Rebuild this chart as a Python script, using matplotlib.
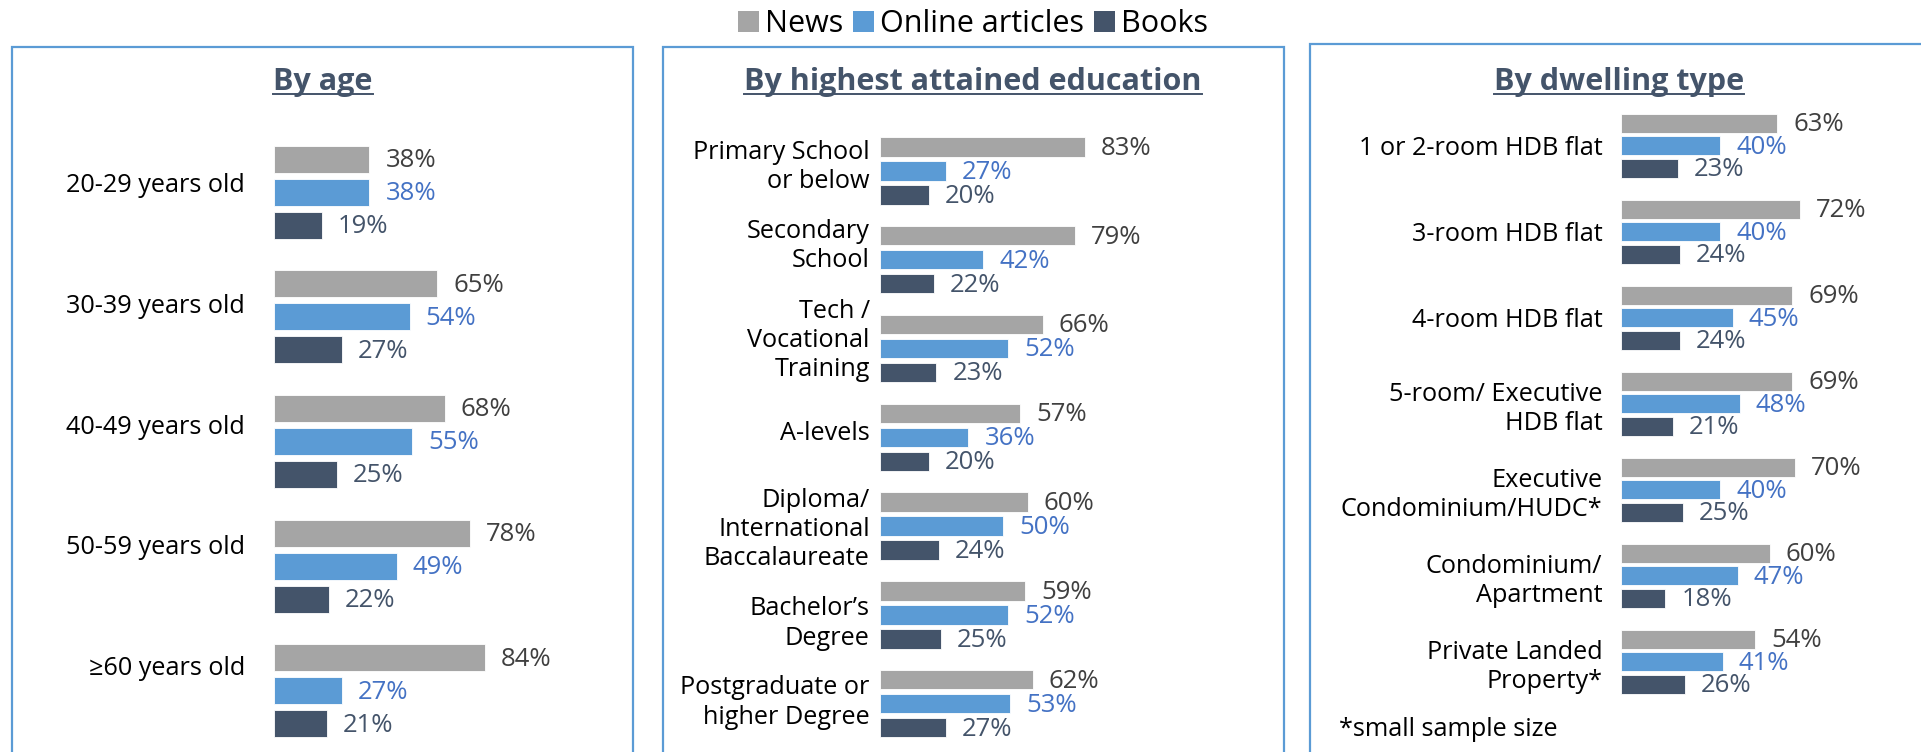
import matplotlib
matplotlib.use('Agg')
import matplotlib.pyplot as plt
from matplotlib.patches import Patch, Rectangle
from matplotlib.lines import Line2D

plt.rcParams['font.family'] = ['Open Sans', 'DejaVu Sans']

# Data
age_labels = ['20-29 years old', '30-39 years old', '40-49 years old', '50-59 years old', '≥60 years old']
age_news = [38, 65, 68, 78, 84]
age_online = [38, 54, 55, 49, 27]
age_books = [19, 27, 25, 22, 21]

edu_labels = ['Primary School\nor below', 'Secondary\nSchool', 'Tech /\nVocational\nTraining', 'A-levels',
              'Diploma/\nInternational\nBaccalaureate', 'Bachelor’s\nDegree', 'Postgraduate or\nhigher Degree']
edu_news = [83, 79, 66, 57, 60, 59, 62]
edu_online = [27, 42, 52, 36, 50, 52, 53]
edu_books = [20, 22, 23, 20, 24, 25, 27]

dwell_labels = ['1 or 2-room HDB flat', '3-room HDB flat', '4-room HDB flat', '5-room/ Executive\nHDB flat',
                'Executive\nCondominium/HUDC*', 'Condominium/\nApartment', 'Private Landed\nProperty*']
dwell_news = [63, 72, 69, 69, 70, 60, 54]
dwell_online = [40, 40, 45, 48, 40, 47, 41]
dwell_books = [23, 24, 24, 21, 25, 18, 26]

series_names = ['News', 'Online articles', 'Books']
bar_colors = ['#A5A5A5', '#5B9BD5', '#44546A']
text_colors = ['#404040', '#4472C4', '#44546A']
border = '#5B9BD5'
title_color = '#44546A'

# category label shift (in group units) as laid out in the original
age_shift = [-0.08, -0.11, -0.14, -0.17, -0.20]
edu_shift = [-0.10, -0.21, -0.15, -0.08, -0.02, 0.04, -0.07]
dwell_shift = [0.0] * 7

W, H = 1921, 752
fig = plt.figure(figsize=(W / 100, H / 100), dpi=100)


def px_axes(left, top, width, height):
    return fig.add_axes([left / W, 1 - (top + height) / H, width / W, height / H])


def panel(left, top, ppc, pitch, labels, values, shift, bh, bp, pad, gap=11.5, fs=18.2, vfs=18.5):
    n = len(labels)
    ax = px_axes(left, top, 100 * ppc, n * pitch)
    ax.set_xlim(0, 100)
    ax.set_ylim(n - 0.5, -0.5)
    for k, vals in enumerate(values):
        ys = [i + (k - 1) * bp for i in range(n)]
        ax.barh(ys, vals, height=bh, color=bar_colors[k], edgecolor='white', linewidth=0.6)
        for y, v in zip(ys, vals):
            ax.annotate(f'{v}%', xy=(v, y), xytext=(gap, -1), textcoords='offset points',
                        ha='left', va='center', fontsize=vfs, color=text_colors[k], annotation_clip=False)
    ax.set_yticks([i + s for i, s in zip(range(n), shift)])
    ax.set_yticklabels(labels, fontsize=fs, color='black', linespacing=1.22)
    ax.tick_params(axis='y', length=0, pad=pad)
    ax.set_xticks([])
    for s in ax.spines.values():
        s.set_visible(False)
    ax.patch.set_visible(False)
    return ax


panel(274, 130, 2.51, 124.6, age_labels, [age_news, age_online, age_books], age_shift, 0.217, 0.265, 21)
panel(879.5, 126.5, 2.47, 88.8, edu_labels, [edu_news, edu_online, edu_books], edu_shift, 0.22, 0.27, 7)
panel(1620.5, 102.8, 2.49, 86, dwell_labels, [dwell_news, dwell_online, dwell_books], dwell_shift,
      0.22, 0.262, 13)

# panel boxes
for x0, x1, y0 in [(12, 633, 47), (663, 1284, 47), (1310, 1930, 44)]:
    fig.add_artist(Rectangle((x0 / W, -0.05), (x1 - x0) / W, 1.05 - y0 / H, transform=fig.transFigure,
                             fill=False, edgecolor=border, linewidth=1.6))

# titles
titles = [('By age', 323), ('By highest attained education', 973), ('By dwelling type', 1619)]
title_objs = []
for txt, xc in titles:
    t = fig.text(xc / W, 1 - 90 / H, txt, ha='center', va='baseline', fontsize=22,
                 fontweight='bold', color=title_color)
    title_objs.append(t)

fig.text(1339 / W, 1 - 730 / H, '*small sample size', ha='left', va='center', fontsize=18.2, color='black')

handles = [Patch(facecolor=c, edgecolor='none') for c in bar_colors]
fig.legend(handles, series_names, loc='center', bbox_to_anchor=(973 / W, 1 - 24 / H), ncol=3, frameon=False,
           fontsize=22, handlelength=0.7, handleheight=0.7, handletextpad=0.2, columnspacing=0.3,
           borderpad=0)

# underline titles
fig.canvas.draw()
r = fig.canvas.get_renderer()
for t in title_objs:
    bb = t.get_window_extent(r)
    yb = (H - 93.5) / H
    fig.add_artist(Line2D([bb.x0 / W, bb.x1 / W], [yb, yb], transform=fig.transFigure,
                          color=title_color, linewidth=1.4))

fig.savefig('out.png', dpi=100)
